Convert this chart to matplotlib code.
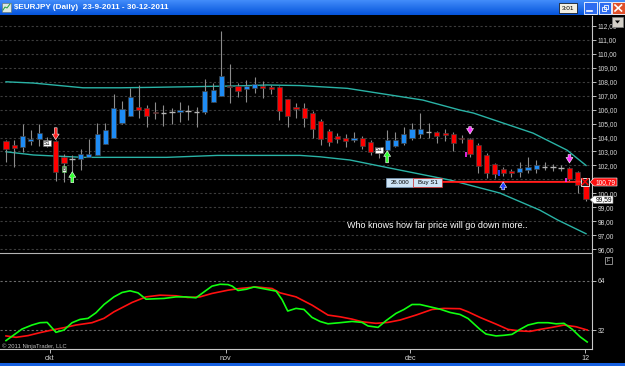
import matplotlib
matplotlib.use('Agg')
import matplotlib.pyplot as plt
import numpy as np
from matplotlib.patches import Rectangle, Polygon, FancyArrowPatch

W, H = 625, 366
FONT = 'Liberation Sans'

# ---------------- data ----------------
opens = [103.74, 103.46, 103.34, 103.75, 103.87, 103.65, 103.75, 102.63, 102.44, 102.44,
         102.63, 102.72, 103.51, 104.00, 105.06, 105.54, 106.19, 106.10, 105.82, 105.78,
         105.80, 105.80, 105.90, 105.80, 105.80, 106.57, 106.98, 107.72, 107.69, 107.50,
         107.57, 107.72, 107.62, 107.60, 106.74, 106.17, 106.10, 105.74, 105.18, 104.49,
         104.10, 104.00, 103.82, 103.94, 103.65, 103.10, 103.08, 103.41, 103.63, 103.94,
         104.25, 104.40, 104.42, 104.30, 104.25, 103.99, 103.87, 103.46, 102.72, 102.10,
         101.72, 101.60, 101.50, 101.67, 101.74, 101.88, 101.86, 101.83, 101.83, 101.50,
         100.59]
highs = [103.80, 103.80, 104.97, 104.54, 104.97, 104.05, 103.80, 102.80, 102.75, 103.15,
         103.87, 105.02, 105.02, 107.10, 106.60, 107.53, 107.77, 106.30, 106.53, 106.33,
         106.14, 106.53, 106.33, 106.20, 108.20, 107.89, 111.64, 109.27, 107.93, 108.10,
         108.32, 108.08, 107.77, 107.70, 106.80, 106.45, 106.50, 105.90, 105.30, 104.60,
         104.30, 104.23, 104.37, 104.10, 103.85, 103.30, 104.54, 104.42, 104.78, 105.06,
         105.73, 105.02, 104.50, 104.59, 104.40, 104.18, 104.00, 103.60, 102.90, 102.20,
         101.90, 101.78, 102.26, 102.62, 102.38, 102.22, 102.10, 102.02, 101.90, 101.60,
         100.65]
lows = [102.27, 101.90, 102.98, 103.46, 103.39, 103.35, 100.90, 100.79, 101.55, 101.67,
        102.63, 102.72, 103.51, 104.00, 105.00, 105.54, 105.38, 104.78, 105.33, 104.85,
        104.95, 105.09, 105.26, 104.78, 105.67, 106.57, 106.98, 106.50, 106.89, 106.57,
        107.22, 106.86, 107.12, 105.26, 104.73, 105.38, 104.78, 104.00, 103.46, 103.39,
        103.63, 103.35, 103.65, 103.15, 102.75, 102.50, 103.00, 103.30, 103.50, 103.80,
        103.94, 103.94, 103.63, 103.77, 103.06, 103.63, 102.60, 101.48, 101.07, 101.07,
        101.25, 101.20, 101.19, 101.43, 101.43, 101.67, 101.62, 101.62, 100.83, 99.99,
        99.47]
closes = [103.20, 103.23, 104.13, 103.92, 104.32, 103.55, 101.50, 102.15, 102.44, 102.82,
          102.82, 104.25, 104.54, 106.10, 106.02, 106.89, 105.97, 105.57, 105.78, 105.78,
          105.80, 105.95, 105.90, 105.80, 107.34, 107.41, 108.43, 107.65, 107.31, 107.69,
          107.84, 107.57, 107.50, 105.93, 105.54, 106.02, 105.40, 104.59, 103.87, 103.66,
          103.87, 103.75, 103.96, 103.41, 102.94, 102.90, 103.80, 103.82, 104.23, 104.59,
          104.61, 104.40, 104.13, 104.20, 103.63, 103.87, 102.85, 101.93, 101.45, 101.36,
          101.49, 101.43, 101.83, 101.90, 102.02, 101.88, 101.86, 101.83, 101.02, 100.59,
          99.59]

upper_x = [0, 3.3, 9.3, 13.8, 17.4, 27.6, 31.5, 35.5, 41.2, 50.3, 54.8, 56.4, 63.6, 67.7, 70.0]
upper_v = [108.0, 107.91, 107.57, 107.57, 107.6, 107.7, 107.77, 107.73, 107.53, 106.69,
           105.97, 105.76, 104.32, 103.1, 102.0]
lower_x = [0, 3.3, 9.3, 19.4, 25.5, 35.5, 37.9, 41.5, 47.5, 53.6, 59.6, 64.4, 66.6, 70.0]
lower_v = [102.98, 102.75, 102.58, 102.58, 102.72, 102.72, 102.62, 102.39, 101.67, 100.95,
           100.02, 98.8, 98.08, 97.1]

green_x = [0.0, 1.93, 3.14, 4.1, 4.97, 6.03, 7.0, 7.97, 8.93, 9.9, 10.86, 11.83, 13.03, 14.0,
           14.97, 15.93, 16.9, 18.1, 19.07, 20.52, 21.72, 22.93, 23.9, 24.86, 25.83, 26.79,
           27.3, 28.0, 29.0, 29.93, 30.9, 32.6, 33.31, 34.0, 35.0, 35.96, 36.93, 37.9, 38.86,
           40.31, 41.76, 42.96, 43.69, 44.9, 45.86, 47.07, 48.03, 49.0, 49.96, 51.17, 52.38,
           53.58, 54.79, 55.76, 57.2, 57.93, 59.14, 60.1, 61.07, 62.03, 63.0, 64.2, 65.41,
           66.38, 67.34, 68.31, 69.27, 70.14]
green_v = [25.4, 32.8, 35.4, 36.9, 37.1, 30.7, 32.2, 36.9, 39.0, 39.7, 43.3, 48.6, 53.5, 56.3,
           57.4, 56.1, 52.0, 52.3, 52.5, 53.5, 53.5, 52.9, 56.7, 60.4, 61.6, 61.4,
           60.4, 57.6, 58.4, 59.9, 58.9, 57.2, 51.8, 44.4, 46.1, 45.4, 40.3, 37.7, 36.2,
           36.9, 37.7, 37.1, 34.8, 33.9, 38.2, 42.9, 45.4, 48.6, 48.6, 47.1, 45.6,
           43.5, 42.2, 39.6, 32.6, 29.6, 28.4, 28.8, 29.4, 32.6, 35.4, 36.9, 36.9,
           36.2, 36.5, 32.8, 27.9, 24.5]
red_x = [0.0, 1.21, 2.66, 4.1, 5.55, 7.0, 8.45, 10.38, 11.83, 13.03, 15.21, 16.9, 18.59,
         20.52, 21.96, 23.41, 24.86, 26.79, 28.24, 30.17, 32.1, 33.07, 35.0, 36.93, 38.86,
         40.31, 41.76, 42.96, 44.65, 46.1, 47.55, 49.48, 51.41, 52.86, 54.79, 55.76, 57.2,
         59.14, 60.58, 62.03, 63.24, 64.45, 65.9, 67.34, 68.79, 70.14]
red_v = [28.4, 27.5, 28.6, 30.5, 32.2, 33.7, 35.4, 36.9, 39.7, 43.9, 49.9, 53.5, 54.6,
         54.2, 53.1, 53.5, 55.7, 57.8, 58.9, 59.9, 58.9, 56.1, 53.5, 48.2, 41.8,
         40.7, 39.2, 37.5, 36.5, 37.1, 38.6, 41.8, 45.4, 46.1, 45.9, 43.9, 40.3,
         36.0, 32.6, 31.6, 31.3, 32.6, 33.9, 35.4, 34.3, 32.2]

price_ticks = list(range(96, 113))
hidden_ticks = [101]          # covered by the order-price marker in the reference
month_pos = [5.3, 26.5, 48.8, 69.9]
month_labels = ['okt', 'nov', 'dec', '12']
osc_levels = [64, 32]
order_price = 100.79
last_price = 99.59
title = '$EURJPY (Daily)  23-9-2011 - 30-12-2011'
note = 'Who knows how far price will go down more..'

# ---------------- figure ----------------
fig = plt.figure(figsize=(W / 100, H / 100), dpi=100, facecolor='black')


def rect(x0, y0, x1, y1):
    return [x0 / W, 1 - y1 / H, (x1 - x0) / W, (y1 - y0) / H]


BLUE = '#1e8cf5'
RED = '#ff0000'
TEAL = '#2ab3a6'
TXT = '#d8d8d8'

# price panel
ax = fig.add_axes(rect(0, 16, 592, 252))
ax.set_facecolor('black')
ax.set_xlim(-0.724, 70.72)
ax.set_ylim(95.79, 112.72)
for s in ax.spines.values():
    s.set_visible(False)
ax.yaxis.tick_right()
ax.set_yticks(price_ticks)
ax.set_yticklabels(['' if v in hidden_ticks else f'{v:.2f}'.replace('.', ',') for v in price_ticks],
                   family=FONT)
ax.tick_params(axis='y', colors=TXT, labelsize=4.8, length=3, width=0.6, pad=1.2)
ax.set_xticks([])
ax.hlines(price_ticks, -0.724, 70.72, colors='#3c3c3c', linestyles=(0, (2, 2)), lw=0.8, zorder=1)

ax.plot(upper_x, upper_v, color=TEAL, lw=1.0, zorder=2)
ax.plot(lower_x, lower_v, color=TEAL, lw=1.0, zorder=2)

xs = np.arange(len(opens))
o = np.array(opens); c = np.array(closes); hi = np.array(highs); lo = np.array(lows)
ax.vlines(xs, lo, hi, colors='#8c8c8c', lw=0.8, zorder=3)
up = c > o
dn = c < o
dj = c == o
ax.bar(xs[up], (c - o)[up], bottom=o[up], width=0.62, color=BLUE, edgecolor='#404040', lw=0.5, zorder=4)
ax.bar(xs[dn], (o - c)[dn], bottom=c[dn], width=0.62, color=RED, edgecolor='#404040', lw=0.5, zorder=4)
ax.hlines(c[dj], xs[dj] - 0.34, xs[dj] + 0.34, colors='#b4b4b4', lw=1.0, zorder=4)


def arrow(x, y0, y1, color):
    a = FancyArrowPatch((x, y0), (x, y1), arrowstyle='simple,head_length=0.8,head_width=1.0,tail_width=0.4',
                        mutation_scale=5, fc=color, ec='white', lw=0.4, zorder=6, shrinkA=0, shrinkB=0)
    ax.add_patch(a)


arrow(6, 104.7, 103.85, '#ff2020')
arrow(8, 100.76, 101.55, '#30ff30')
arrow(46, 102.19, 103.05, '#30ff30')
arrow(56, 104.78, 104.25, '#ff30ff')
arrow(68, 102.78, 102.17, '#ff30ff')
arrow(60, 100.25, 100.82, '#2040ff')
ax.vlines([59.55], 101.27, 101.67, colors='#2040ff', lw=1.4, zorder=6)
ax.vlines([55.55, 67.55], [102.62, 100.82], [102.98, 101.12], colors='#ff30ff', lw=1.2, zorder=6)

for bx, by in [(5, 103.6), (45, 103.12)]:
    ax.text(bx, by, 'S1', fontsize=3.8, family=FONT, color='black', ha='center', va='center', zorder=7,
            bbox=dict(boxstyle='square,pad=0.15', fc='white', ec='#606060', lw=0.4))
ax.text(7, 101.72, 'B', fontsize=3.4, family=FONT, color='black', ha='center', va='center', zorder=7,
        bbox=dict(boxstyle='square,pad=0.1', fc='#e8f0e8', ec='#40c040', lw=0.4))

# order line and labels
ax.hlines([order_price + 0.11], 52.58, 69.36, colors='#f4f4d8', lw=0.8, zorder=5)
ax.hlines([order_price], 52.58, 69.36, colors='#ff1010', lw=1.3, zorder=5)
ax.add_patch(Rectangle((45.86, 100.48), 3.29, 0.6, fc='#cde4f6', ec='#7a9ab8', lw=0.5, zorder=6))
ax.add_patch(Rectangle((49.15, 100.48), 3.43, 0.6, fc='#cde4f6', ec='#e03030', lw=0.5, zorder=6))
ax.text(47.5, 100.78, '26.000', fontsize=4.4, family=FONT, color='black', ha='center', va='center', zorder=7)
ax.text(50.87, 100.78, 'Buy S1', fontsize=4.4, family=FONT, color='black', ha='center', va='center', zorder=7)
ax.add_patch(Rectangle((69.36, 100.55), 1.04, 0.57, fc='#202020', ec='white', lw=0.6, zorder=6))
ax.plot([69.55, 70.21], [100.63, 101.04], color='red', lw=1.1, zorder=7)
ax.plot([69.55, 70.21], [101.04, 100.63], color='red', lw=1.1, zorder=7)

ax.text(41.15, 97.72, note, fontsize=6.5, family=FONT, color='white', ha='left', va='center', zorder=7)

# oscillator panel
ax2 = fig.add_axes(rect(0, 253, 592, 349.3))
ax2.set_facecolor('black')
ax2.set_xlim(-0.724, 70.72)
ax2.set_ylim(19.8, 81.7)
for s in ax2.spines.values():
    s.set_visible(False)
ax2.spines['bottom'].set_visible(True)
ax2.spines['bottom'].set_color('#c8c8c8')
ax2.spines['bottom'].set_linewidth(0.8)
ax2.yaxis.tick_right()
ax2.set_yticks(osc_levels)
ax2.set_yticklabels([str(v) for v in osc_levels], family=FONT)
ax2.tick_params(axis='y', colors=TXT, labelsize=4.8, length=3, width=0.6, pad=1.2)
ax2.set_xticks(month_pos)
ax2.set_xticklabels(month_labels, family=FONT)
ax2.tick_params(axis='x', colors=TXT, labelsize=5.2, length=3, width=0.6, pad=1.0)
ax2.hlines(osc_levels, -0.724, 70.72, colors='#6a6a6a', linestyles=(0, (2, 2)), lw=0.8, zorder=1)
ax2.plot(red_x, red_v, color='#ff1010', lw=1.2, zorder=3)
ax2.plot(green_x, green_v, color='#10ff10', lw=1.2, zorder=4)

# decorations overlay
deco = fig.add_axes([0, 0, 1, 1], zorder=10)
deco.patch.set_alpha(0)
deco.axis('off')
grad = np.linspace(0, 1, 30)
top = np.array([0.26, 0.55, 0.98]); bot = np.array([0.02, 0.33, 0.86])
img = (top[None, :] * (1 - grad[:, None]) + bot[None, :] * grad[:, None])[:, None, :]
deco.imshow(img, extent=[0, W, 15, 0], aspect='auto', zorder=1)
deco.add_patch(Rectangle((0, 362.5), W, 4, fc='#1660e0', ec='none', zorder=1))
deco.text(14, 7.8, title, fontsize=5.9, family=FONT, weight='bold', color='white', va='center', zorder=3)
deco.add_patch(Rectangle((2, 3), 9, 9, fc='#dfe8e0', ec='#607060', lw=0.4, zorder=3))
deco.plot([3, 5, 7, 10], [10, 7, 8, 4], color='#20a040', lw=0.7, zorder=4)
deco.add_patch(Rectangle((559, 3), 18, 10, fc='#f2efe2', ec='black', lw=0.5, zorder=3))
deco.text(568, 8.2, '3:01', fontsize=4.6, family=FONT, color='black', ha='center', va='center', zorder=4)
for x0, fc in [(584, '#2f6df0'), (598.5, '#2f6df0')]:
    deco.add_patch(Rectangle((x0, 2), 12.5, 12, fc=fc, ec='white', lw=0.6, zorder=3))
deco.plot([587, 592], [11, 11], color='white', lw=1.2, zorder=4)
deco.add_patch(Rectangle((601.5, 6.5), 4.5, 4.5, fc='none', ec='white', lw=0.6, zorder=4))
deco.add_patch(Rectangle((603.5, 4.5), 4.5, 4.5, fc='none', ec='white', lw=0.6, zorder=4))
deco.add_patch(Rectangle((612, 2), 12.5, 12, fc='#e0502a', ec='white', lw=0.6, zorder=3))
deco.plot([615, 621.5], [5, 11], color='white', lw=1.2, zorder=4)
deco.plot([615, 621.5], [11, 5], color='white', lw=1.2, zorder=4)

deco.plot([592, 592], [16, 349.3], color='#c8c8c8', lw=0.8, zorder=2)
deco.plot([0, 592], [252.7, 252.7], color='#b4b4b4', lw=0.8, zorder=2)
deco.add_patch(Rectangle((612, 17), 11, 10, fc='#d4d0c8', ec='#808080', lw=0.5, zorder=3))
deco.add_patch(Polygon([[615, 20.5], [620, 20.5], [617.5, 23.5]], closed=True, fc='black', zorder=4))
deco.add_patch(Rectangle((605, 257), 6.5, 7, fc='black', ec='#c0c0c0', lw=0.5, zorder=3))
deco.text(608.3, 260.7, 'F', fontsize=3.8, family=FONT, color='#d0d0d0', ha='center', va='center', zorder=4)

# axis price markers
deco.add_patch(Polygon([[590, 182], [594, 178], [617, 178], [617, 186], [594, 186]], closed=True,
                       fc='#ff1010', ec='white', lw=0.4, zorder=5))
deco.text(605.5, 182.2, f'{order_price:.2f}'.replace('.', ','), fontsize=4.8, family=FONT, color='white',
          ha='center', va='center', zorder=6)
deco.add_patch(Polygon([[590, 199.7], [594, 196], [613, 196], [613, 203.4], [594, 203.4]], closed=True,
                       fc='white', ec='#808080', lw=0.4, zorder=5))
deco.text(603.5, 199.9, f'{last_price:.2f}'.replace('.', ','), fontsize=4.8, family=FONT, color='black',
          ha='center', va='center', zorder=6)
deco.text(2, 346, '\u00a9 2011 NinjaTrader, LLC', fontsize=4.2, family=FONT, color='#c0c0c0', va='center', zorder=3)

deco.set_xlim(0, W)
deco.set_ylim(H, 0)

fig.savefig('out.png', dpi=100, facecolor='black')
